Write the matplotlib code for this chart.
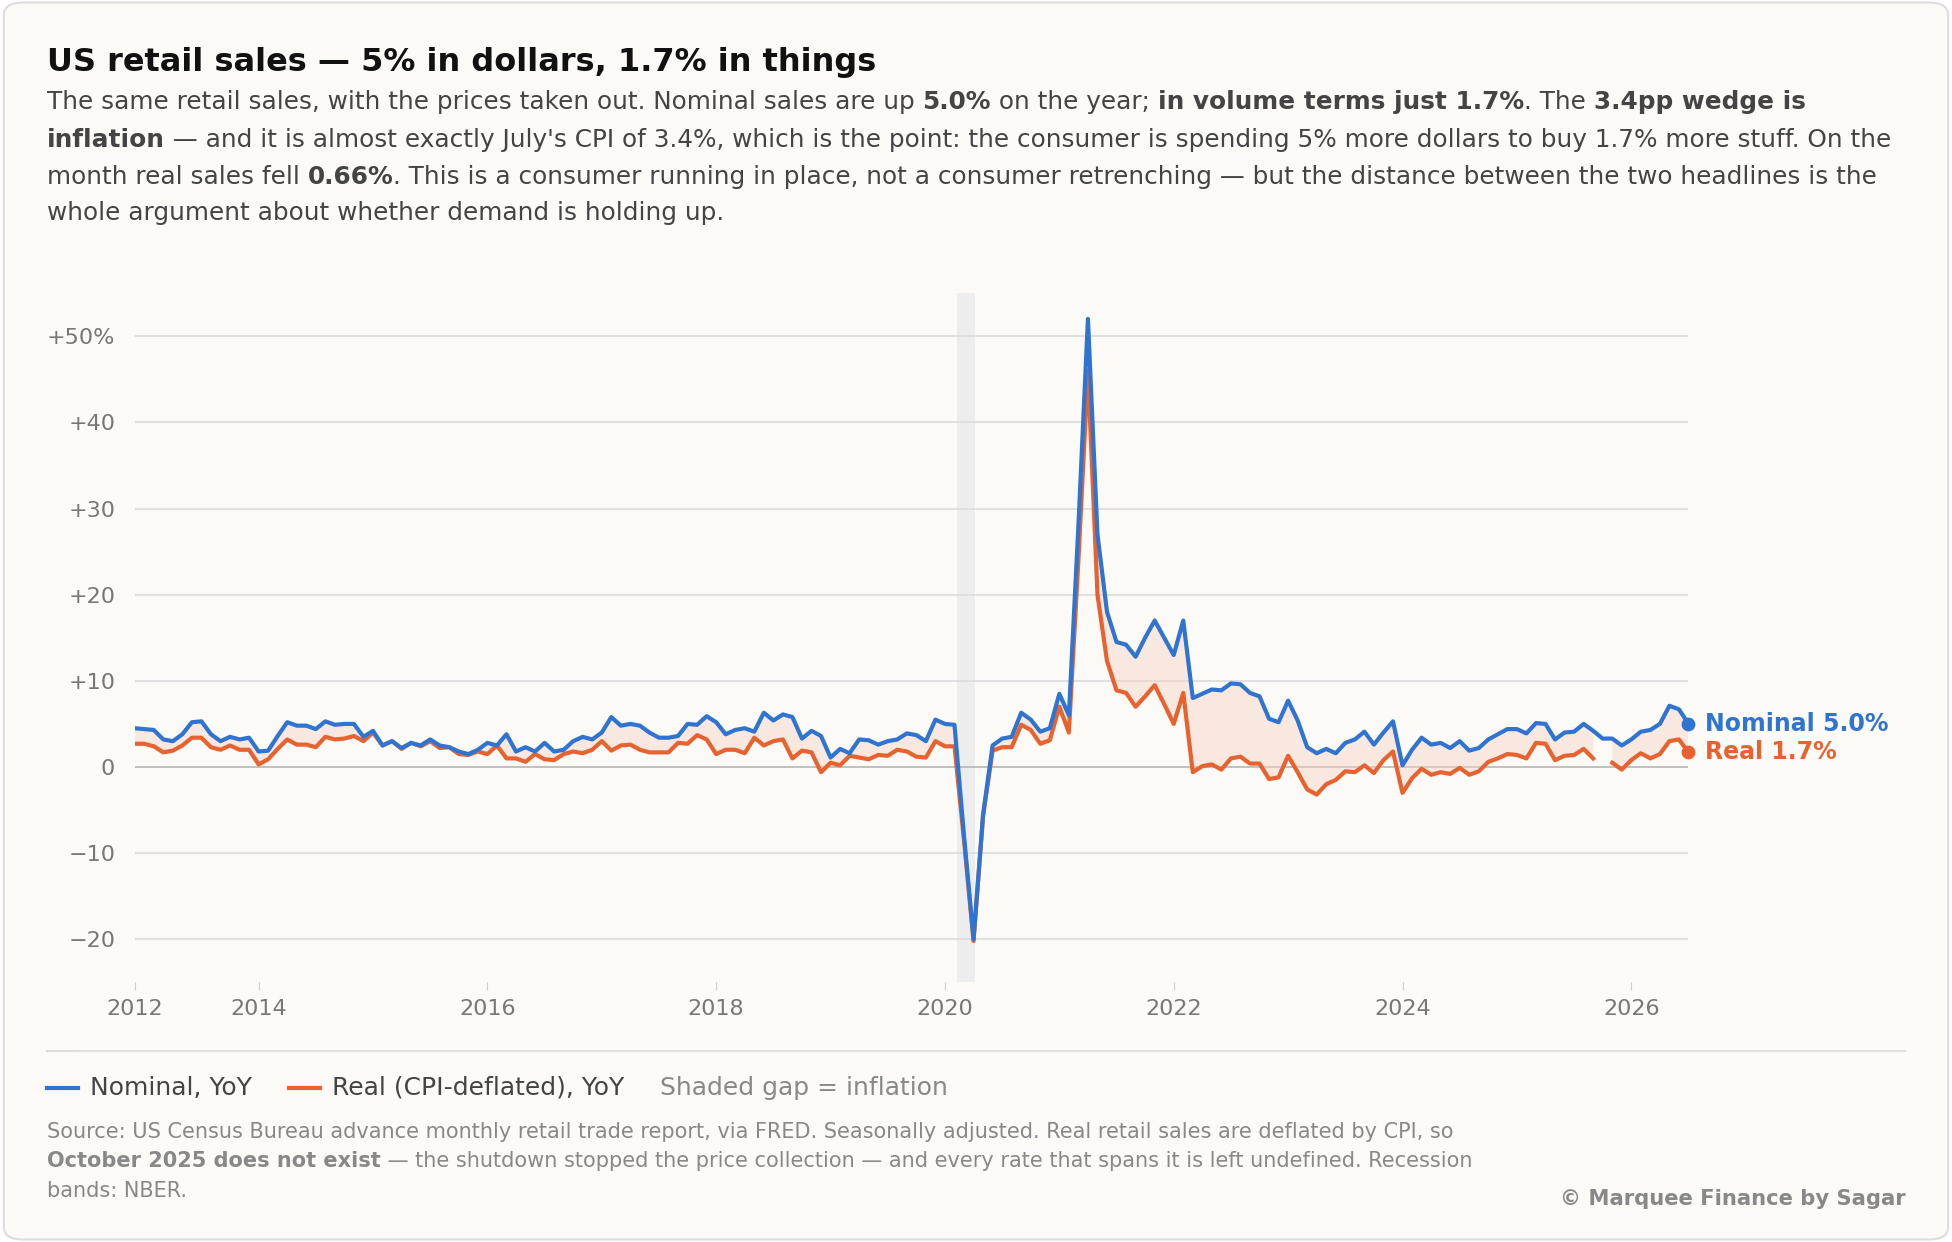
import numpy as np
import matplotlib.pyplot as plt
from matplotlib.patches import FancyBboxPatch

# monthly YoY %, Dec 2012 .. Jul 2026
nominal = [4.5,
    4.4, 4.3, 3.2, 3.0, 3.8, 5.2, 5.3, 3.8, 3.0, 3.5, 3.2, 3.4,
    1.8, 1.9, 3.6, 5.2, 4.8, 4.8, 4.4, 5.3, 4.9, 5.0, 5.0, 3.5,
    4.2, 2.5, 3.0, 2.2, 2.8, 2.5, 3.2, 2.5, 2.3, 1.8, 1.5, 2.0,
    2.8, 2.5, 3.8, 1.8, 2.3, 1.8, 2.8, 1.8, 2.0, 3.0, 3.5, 3.2,
    4.0, 5.8, 4.8, 5.0, 4.8, 4.0, 3.4, 3.4, 3.6, 5.0, 4.9, 5.9,
    5.2, 3.8, 4.3, 4.5, 4.1, 6.3, 5.4, 6.1, 5.8, 3.3, 4.2, 3.6,
    1.1, 2.1, 1.6, 3.2, 3.1, 2.6, 3.0, 3.2, 3.9, 3.7, 3.0, 5.5,
    5.0, 4.9, -8.0, -20.0, -5.5, 2.5, 3.3, 3.5, 6.3, 5.5, 4.1, 4.5,
    8.5, 6.0, 28.0, 52.0, 27.0, 18.0, 14.5, 14.2, 12.8, 15.0, 17.0, 15.0,
    13.0, 17.0, 8.0, 8.5, 9.0, 8.9, 9.7, 9.6, 8.6, 8.2, 5.6, 5.2,
    7.7, 5.4, 2.3, 1.6, 2.1, 1.6, 2.8, 3.2, 4.1, 2.6, 4.0, 5.3,
    0.2, 2.0, 3.4, 2.6, 2.8, 2.2, 3.0, 1.9, 2.2, 3.2, 3.8, 4.4,
    4.4, 3.9, 5.1, 5.0, 3.2, 4.0, 4.1, 5.0, 4.2, 3.3, 3.3, 2.5,
    3.2, 4.1, 4.3, 5.0, 7.1, 6.7, 5.0]
real = [2.7,
    2.7, 2.4, 1.7, 1.9, 2.5, 3.4, 3.4, 2.3, 2.0, 2.5, 2.0, 2.0,
    0.3, 0.9, 2.1, 3.2, 2.6, 2.6, 2.3, 3.5, 3.2, 3.3, 3.6, 3.0,
    4.0, 2.5, 3.0, 2.1, 2.8, 2.4, 3.0, 2.2, 2.3, 1.5, 1.4, 1.8,
    1.5, 2.5, 1.0, 1.0, 0.6, 1.5, 0.9, 0.8, 1.5, 1.8, 1.6, 2.0,
    3.0, 1.9, 2.5, 2.6, 2.0, 1.7, 1.7, 1.7, 2.8, 2.7, 3.7, 3.2,
    1.5, 2.0, 2.0, 1.6, 3.4, 2.5, 3.0, 3.2, 1.0, 1.9, 1.7, -0.6,
    0.5, 0.2, 1.3, 1.1, 0.9, 1.4, 1.3, 2.0, 1.8, 1.2, 1.1, 3.0,
    2.4, 2.4, -8.5, -20.2, -5.7, 1.9, 2.3, 2.3, 4.9, 4.3, 2.7, 3.1,
    7.0, 4.0, 24.0, 46.0, 20.0, 12.3, 8.9, 8.6, 7.0, 8.2, 9.5, 7.3,
    5.0, 8.6, -0.6, 0.1, 0.3, -0.3, 1.0, 1.2, 0.4, 0.4, -1.4, -1.2,
    1.3, -0.6, -2.6, -3.2, -2.0, -1.5, -0.5, -0.6, 0.2, -0.7, 0.8, 1.8,
    -3.0, -1.3, -0.2, -0.9, -0.6, -0.8, -0.1, -0.9, -0.5, 0.6, 1.0, 1.5,
    1.4, 1.0, 2.8, 2.7, 0.8, 1.3, 1.4, 2.1, 1.0, np.nan, 0.5, -0.3,
    0.8, 1.6, 1.0, 1.5, 3.0, 3.2, 1.7]
x_ticks = [2012 + 11 / 12, 2014, 2016, 2018, 2020, 2022, 2024, 2026]
x_labels = ['2012', '2014', '2016', '2018', '2020', '2022', '2024', '2026']
y_ticks = [-20, -10, 0, 10, 20, 30, 40, 50]
y_labels = ['\u221220', '\u221210', '0', '+10', '+20', '+30', '+40', '+50%']

nominal = np.array(nominal)
real = np.array(real)
t = 2012 + 11 / 12 + np.arange(len(nominal)) / 12

BLUE = '#2f74d0'
ORANGE = '#e8622f'
BG = '#fbfaf7'

fig = plt.figure(figsize=(19.52, 12.42), dpi=100)
fig.patch.set_facecolor('white')
fig.patches.append(FancyBboxPatch((0.002, 0.002), 0.996, 0.996, boxstyle='round,pad=0,rounding_size=0.01',
                                  transform=fig.transFigure, facecolor=BG, edgecolor='#dddddd', lw=1.5, zorder=-10))

ax = fig.add_axes([0.069, 0.209, 0.796, 0.555])
ax.set_facecolor('none')
ax.axvspan(2020 + 1.3 / 12, 2020 + 3.2 / 12, color='#ececec', alpha=0.9, lw=0, zorder=0)
for yv in y_ticks:
    ax.axhline(yv, color='#bbbbbb' if yv == 0 else '#dddddd', lw=1.3, zorder=1)
ok = ~np.isnan(real)
ax.fill_between(t, nominal, real, where=ok, color='#f7d3c3', alpha=0.45, lw=0, zorder=2)
ax.plot(t, real, color=ORANGE, lw=3, zorder=3)
ax.plot(t, nominal, color=BLUE, lw=3, zorder=4)
ax.scatter([t[-1]], [nominal[-1]], color=BLUE, s=80, zorder=5, clip_on=False)
ax.scatter([t[-1]], [real[-1]], color=ORANGE, s=80, zorder=5, clip_on=False)
ax.annotate('Nominal %.1f%%' % nominal[-1], (t[-1], nominal[-1]), xytext=(12, 0), textcoords='offset points',
            va='center', color=BLUE, fontsize=17, fontweight='bold', annotation_clip=False)
ax.annotate('Real %.1f%%' % real[-1], (t[-1], real[-1]), xytext=(12, 0), textcoords='offset points',
            va='center', color=ORANGE, fontsize=17, fontweight='bold', annotation_clip=False)

ax.set_xlim(t[0], t[-1])
ax.set_ylim(-25, 55)
ax.set_xticks(x_ticks, x_labels)
ax.set_yticks(y_ticks, y_labels)
ax.tick_params(axis='x', length=6, color='#cccccc', labelsize=16, labelcolor='#777777', pad=6)
ax.tick_params(axis='y', length=0, labelsize=16, labelcolor='#777777', pad=14)
for s in ax.spines.values():
    s.set_visible(False)


def rich_line(y, parts, size, color, x0=0.024):
    # draw text segments side by side, bold ones marked with True
    r = fig.canvas.get_renderer()
    x = x0
    for txt, bold in parts:
        tt = fig.text(x, y, txt, fontsize=size, color=color, fontweight='bold' if bold else 'normal', va='baseline')
        bb = tt.get_window_extent(renderer=r)
        x += bb.width / fig.bbox.width


fig.text(0.024, 0.943, 'US retail sales \u2014 5% in dollars, 1.7% in things', fontsize=23, fontweight='bold', color='#111111')
sub = '#444444'
rich_line(0.912, [('The same retail sales, with the prices taken out. Nominal sales are up ', False), ('5.0%', True),
                  (' on the year; ', False), ('in volume terms just 1.7%', True), ('. The ', False), ('3.4pp wedge is', True)], 17.8, sub)
rich_line(0.882, [('inflation', True), (" \u2014 and it is almost exactly July's CPI of 3.4%, which is the point: the consumer is spending 5% more dollars to buy 1.7% more stuff. On the", False)], 17.8, sub)
rich_line(0.852, [('month real sales fell ', False), ('0.66%', True),
                  ('. This is a consumer running in place, not a consumer retrenching \u2014 but the distance between the two headlines is the', False)], 17.8, sub)
rich_line(0.823, [('whole argument about whether demand is holding up.', False)], 17.8, sub)

fig.add_artist(plt.Line2D([0.024, 0.040], [0.154, 0.154], transform=fig.transFigure, color='#dddddd', lw=1.2))
fig.add_artist(plt.Line2D([0.024, 0.976], [0.154, 0.154], transform=fig.transFigure, color='#dddddd', lw=1.2))
fig.add_artist(plt.Line2D([0.024, 0.040], [0.124, 0.124], transform=fig.transFigure, color=BLUE, lw=3))
fig.text(0.046, 0.124, 'Nominal, YoY', fontsize=18, color='#444444', va='center')
fig.add_artist(plt.Line2D([0.148, 0.164], [0.124, 0.124], transform=fig.transFigure, color=ORANGE, lw=3))
fig.text(0.170, 0.124, 'Real (CPI-deflated), YoY', fontsize=18, color='#444444', va='center')
fig.text(0.338, 0.124, 'Shaded gap = inflation', fontsize=18, color='#888888', va='center')

src = '#888888'
rich_line(0.084, [('Source: US Census Bureau advance monthly retail trade report, via FRED. Seasonally adjusted. Real retail sales are deflated by CPI, so', False)], 15, src)
rich_line(0.060, [('October 2025 does not exist', True), (' \u2014 the shutdown stopped the price collection \u2014 and every rate that spans it is left undefined. Recession', False)], 15, src)
rich_line(0.036, [('bands: NBER.', False)], 15, src)
fig.text(0.976, 0.030, '\u00a9 Marquee Finance by Sagar', fontsize=15.2, fontweight='bold', color='#888888', ha='right')

fig.savefig('out.png', dpi=100, facecolor=fig.get_facecolor())
